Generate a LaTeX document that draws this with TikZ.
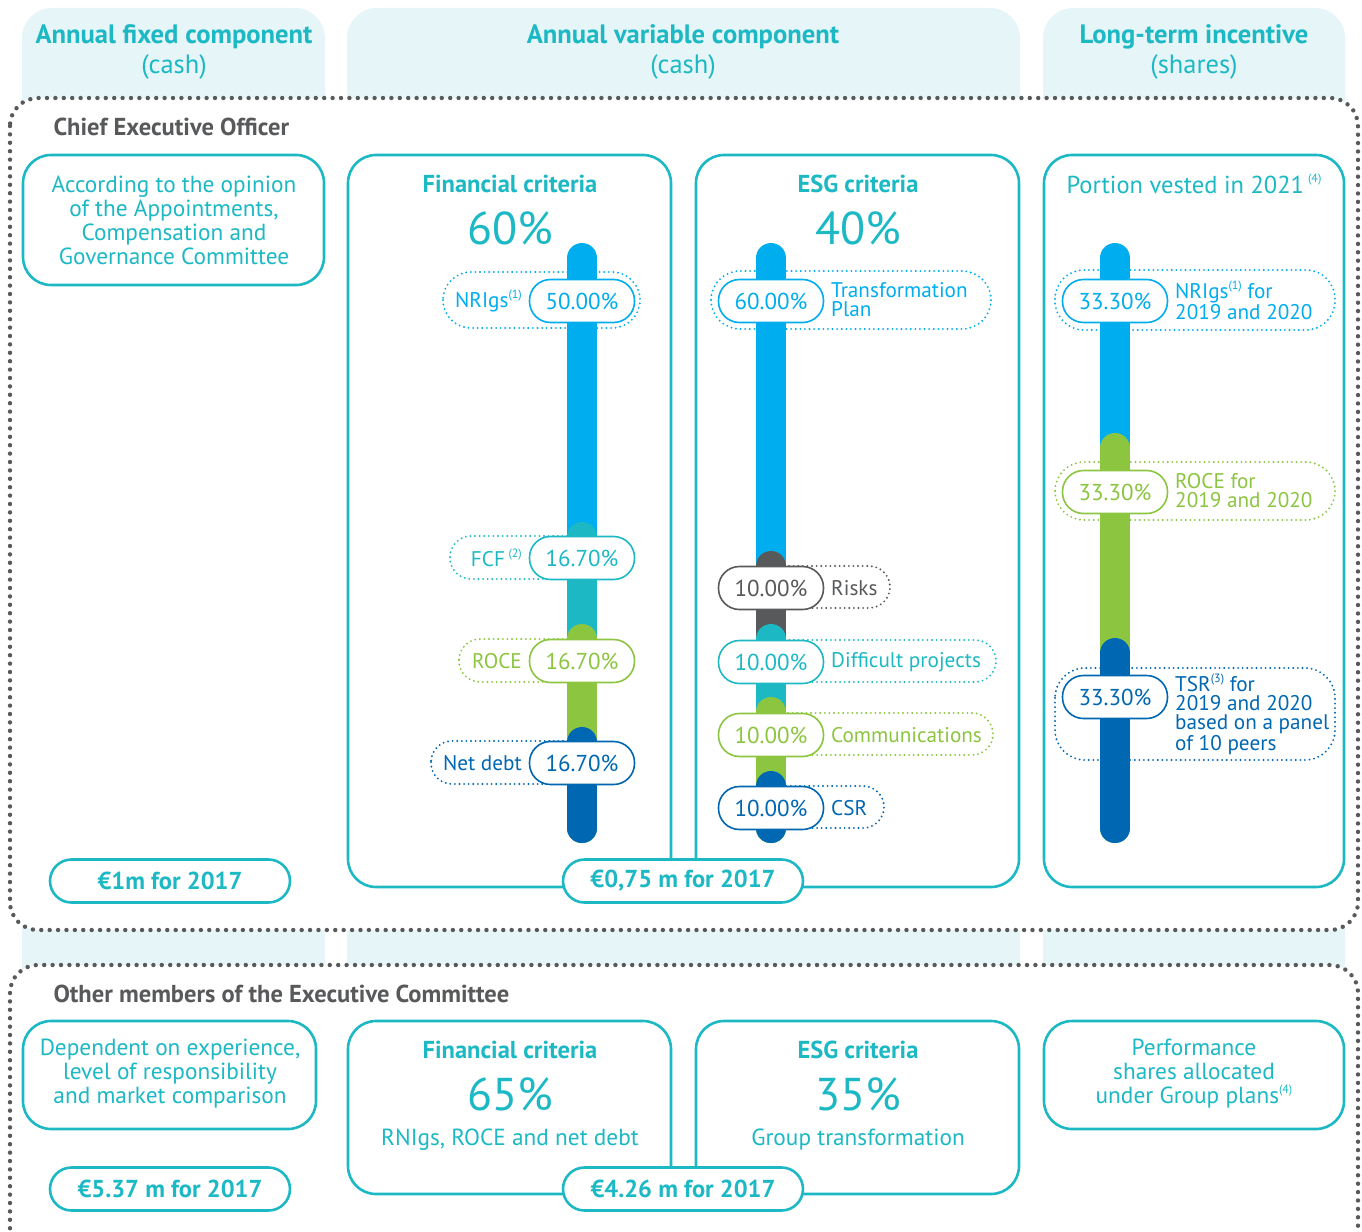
\documentclass[tikz,border=0pt]{standalone}
\usepackage{fontspec}
\setmainfont{PT Sans}
\definecolor{cteal}{HTML}{1CB9C5}
\definecolor{cblue}{HTML}{00ADEE}
\definecolor{cdblue}{HTML}{0067B2}
\definecolor{cgreen}{HTML}{8CC540}
\definecolor{cgrey}{HTML}{58595B}
\definecolor{ctab}{HTML}{E6F5F7}
\newcommand{\supx}[1]{\raisebox{0.45em}{\fontsize{12}{12}\selectfont#1}}
\begin{document}
\begin{tikzpicture}[x=1pt,y=-1pt,
  tab/.style={fill=ctab, rounded corners=30pt},
  frame/.style={draw=cgrey, line width=4.4pt, dash pattern=on 0pt off 8.4pt, line cap=round, fill=white, rounded corners=28pt},
  box/.style={draw=cteal, line width=2.6pt, rounded corners=28pt, fill=white},
  solidpill/.style={draw=#1, text=#1, line width=1.6pt, fill=white, rounded corners=21pt, minimum width=105pt, minimum height=43pt, inner sep=0pt, font=\fontsize{23}{23}\selectfont},
  dotpill/.style={draw=#1, line width=2.1pt, dash pattern=on 0pt off 4.6pt, line cap=round, rounded corners=21pt},
  money/.style={draw=cteal, line width=2.6pt, fill=white, rounded corners=21.5pt, minimum width=240pt, minimum height=43pt, inner sep=0pt, text=cteal, font=\bfseries\fontsize{24.5}{24.5}\selectfont},
  bar/.style={line width=30pt, line cap=round},
  htitle/.style={text=cteal, font=\bfseries\fontsize{26.6}{26.6}\selectfont},
  hsub/.style={text=cteal, font=\fontsize{26.5}{26.5}\selectfont},
  section/.style={anchor=west, text=cgrey, font=\bfseries\fontsize{24.5}{24.5}\selectfont},
  body/.style={text=cteal, align=center, font=\fontsize{23.3}{24}\selectfont},
  ctitle/.style={text=cteal, font=\bfseries\fontsize{24.5}{24.5}\selectfont},
  bigpct/.style={text=cteal, font=\fontsize{46}{46}\selectfont},
  lbl/.style={text=#1, font=\fontsize{21.2}{19}\selectfont, inner sep=0pt}
]
\useasboundingbox (0,0) rectangle (1362,1231);
\clip (0,0) rectangle (1362,1231);

% header columns
\fill[tab] (22,1300) -- (22,8) -- (325,8) -- (325,1300) -- cycle;
\fill[tab] (347,1300) -- (347,8) -- (1020,8) -- (1020,1300) -- cycle;
\fill[tab] (1043,1300) -- (1043,8) -- (1345,8) -- (1345,1300) -- cycle;
\node[htitle] (h1) at (174,37) {Annual fixed component};
\node[hsub] (h1s) at (174,67) {(cash)};
\node[htitle] (h2) at (683,37) {Annual variable component};
\node[hsub] (h2s) at (683,67) {(cash)};
\node[htitle] (h3) at (1194,37) {Long-term incentive};
\node[hsub] (h3s) at (1194,67) {(shares)};

% frames
\draw[frame] (10,98) rectangle (1358,930);
\draw[frame] (10,965) rectangle (1358,1300);

% ===== CEO =====
\node[section] (ceo) at (50,127) {Chief Executive Officer};

\draw[box] (23,155) rectangle (324,285);
\node[body] (ta) at (174,220) {According to the opinion\\of the Appointments,\\Compensation and\\Governance Committee};

\draw[box] (348,155) rectangle (671,887);
\draw[box] (696,155) rectangle (1019,887);
\draw[box] (1044,155) rectangle (1344,887);

\node[ctitle] (fint) at (510,184) {Financial criteria};
\node[bigpct] (finp) at (510,228) {60\%};
\node[ctitle] (esgt) at (858,184) {ESG criteria};
\node[bigpct] (esgp) at (858,228) {40\%};
\node[text=cteal, font=\fontsize{24.5}{24.5}\selectfont] (ltit) at (1194,184) {Portion vested in 2021\,\supx{(4)}};

% dotted label pills (drawn under bars)
\draw[dotpill=cblue, rounded corners=28pt] (443,272) rectangle (640,328);
\draw[dotpill=cteal] (450,536) rectangle (600,579);
\draw[dotpill=cgreen] (459,639) rectangle (600,682);
\draw[dotpill=cdblue] (431,741) rectangle (600,784);

\draw[dotpill=cblue, rounded corners=29pt] (711,271) rectangle (991,329);
\draw[dotpill=cgrey] (760,566) rectangle (890,608);
\draw[dotpill=cteal] (760,640) rectangle (996,682);
\draw[dotpill=cgreen] (760,713) rectangle (993,755);
\draw[dotpill=cdblue] (760,786) rectangle (884,828);

\draw[dotpill=cblue, rounded corners=29pt] (1055,270) rectangle (1335,330);
\draw[dotpill=cgreen, rounded corners=29pt] (1055,462) rectangle (1335,520);
\draw[dotpill=cdblue, rounded corners=30pt] (1055,668) rectangle (1335,760);

% bars
\draw[bar, cblue] (582,258) -- (582,828);
\draw[bar, cteal] (582,537) -- (582,828);
\draw[bar, cgreen] (582,639) -- (582,828);
\draw[bar, cdblue] (582,742) -- (582,828);

\draw[bar, cblue] (771,258) -- (771,828);
\draw[bar, cgrey] (771,566) -- (771,828);
\draw[bar, cteal] (771,639) -- (771,828);
\draw[bar, cgreen] (771,712) -- (771,828);
\draw[bar, cdblue] (771,786) -- (771,828);

\draw[bar, cblue] (1115,258) -- (1115,828);
\draw[bar, cgreen] (1115,448) -- (1115,828);
\draw[bar, cdblue] (1115,653) -- (1115,828);

% value pills
\node[solidpill=cblue] (f1) at (582,301) {50.00\%};
\node[solidpill=cteal] (f2) at (582,558) {16.70\%};
\node[solidpill=cgreen] (f3) at (582,661) {16.70\%};
\node[solidpill=cdblue] (f4) at (582,763) {16.70\%};
\node[lbl=cblue, anchor=east] (f1l) at (522,301) {NRIgs\supx{(1)}};
\node[lbl=cteal, anchor=east] (f2l) at (522,558) {FCF\,\supx{(2)}};
\node[lbl=cgreen, anchor=east] (f3l) at (522,661) {ROCE};
\node[lbl=cdblue, anchor=east] (f4l) at (522,763) {Net debt};

\node[solidpill=cblue] (e1) at (771,301) {60.00\%};
\node[solidpill=cgrey] (e2) at (771,588) {10.00\%};
\node[solidpill=cteal] (e3) at (771,662) {10.00\%};
\node[solidpill=cgreen] (e4) at (771,735) {10.00\%};
\node[solidpill=cdblue] (e5) at (771,808) {10.00\%};
\node[lbl=cblue, anchor=west, align=left] (e1l) at (831,300) {Transformation\\Plan};
\node[lbl=cgrey, anchor=west] (e2l) at (831,588) {Risks};
\node[lbl=cteal, anchor=west] (e3l) at (831,662) {Difficult projects};
\node[lbl=cgreen, anchor=west] (e4l) at (831,735) {Communications};
\node[lbl=cdblue, anchor=west] (e5l) at (831,808) {CSR};

\node[solidpill=cblue] (l1) at (1115,301) {33.30\%};
\node[solidpill=cgreen] (l2) at (1115,492) {33.30\%};
\node[solidpill=cdblue] (l3) at (1115,697) {33.30\%};
\node[lbl=cblue, anchor=west, align=left] (l1l) at (1175,300) {NRIgs\supx{(1)} for\\2019 and 2020};
\node[lbl=cgreen, anchor=west, align=left] (l2l) at (1175,491) {ROCE for\\2019 and 2020};
\node[lbl=cdblue, anchor=west, align=left] (l3l) at (1175,714) {TSR\supx{(3)} for\\2019 and 2020\\based on a panel\\of 10 peers};

\node[money] (m1) at (170,881) {€1m for 2017};
\node[money] (m2) at (683,881) {€0,75 m for 2017};

% ===== Other members =====
\node[section] (oth) at (50,994) {Other members of the Executive Committee};

\draw[box] (23,1021) rectangle (316,1129);
\node[body] (tb) at (170,1074) {Dependent on experience,\\level of responsibility\\and market comparison};

\draw[box] (348,1021) rectangle (671,1194);
\node[ctitle] (fint2) at (510,1050) {Financial criteria};
\node[bigpct] (finp2) at (510,1094) {65\%};
\node[body] (fint3) at (510,1140) {RNIgs, ROCE and net debt};

\draw[box] (696,1021) rectangle (1019,1194);
\node[ctitle] (esgt2) at (858,1050) {ESG criteria};
\node[bigpct] (esgp2) at (858,1094) {35\%};
\node[body] (esgt3) at (858,1140) {Group transformation};

\draw[box] (1044,1021) rectangle (1344,1129);
\node[body] (tp) at (1194,1074) {Performance\\shares allocated\\under Group plans\supx{(4)}};

\node[money] (m3) at (170,1189) {€5.37 m for 2017};
\node[money] (m4) at (683,1189) {€4.26 m for 2017};
\end{tikzpicture}
\end{document}
